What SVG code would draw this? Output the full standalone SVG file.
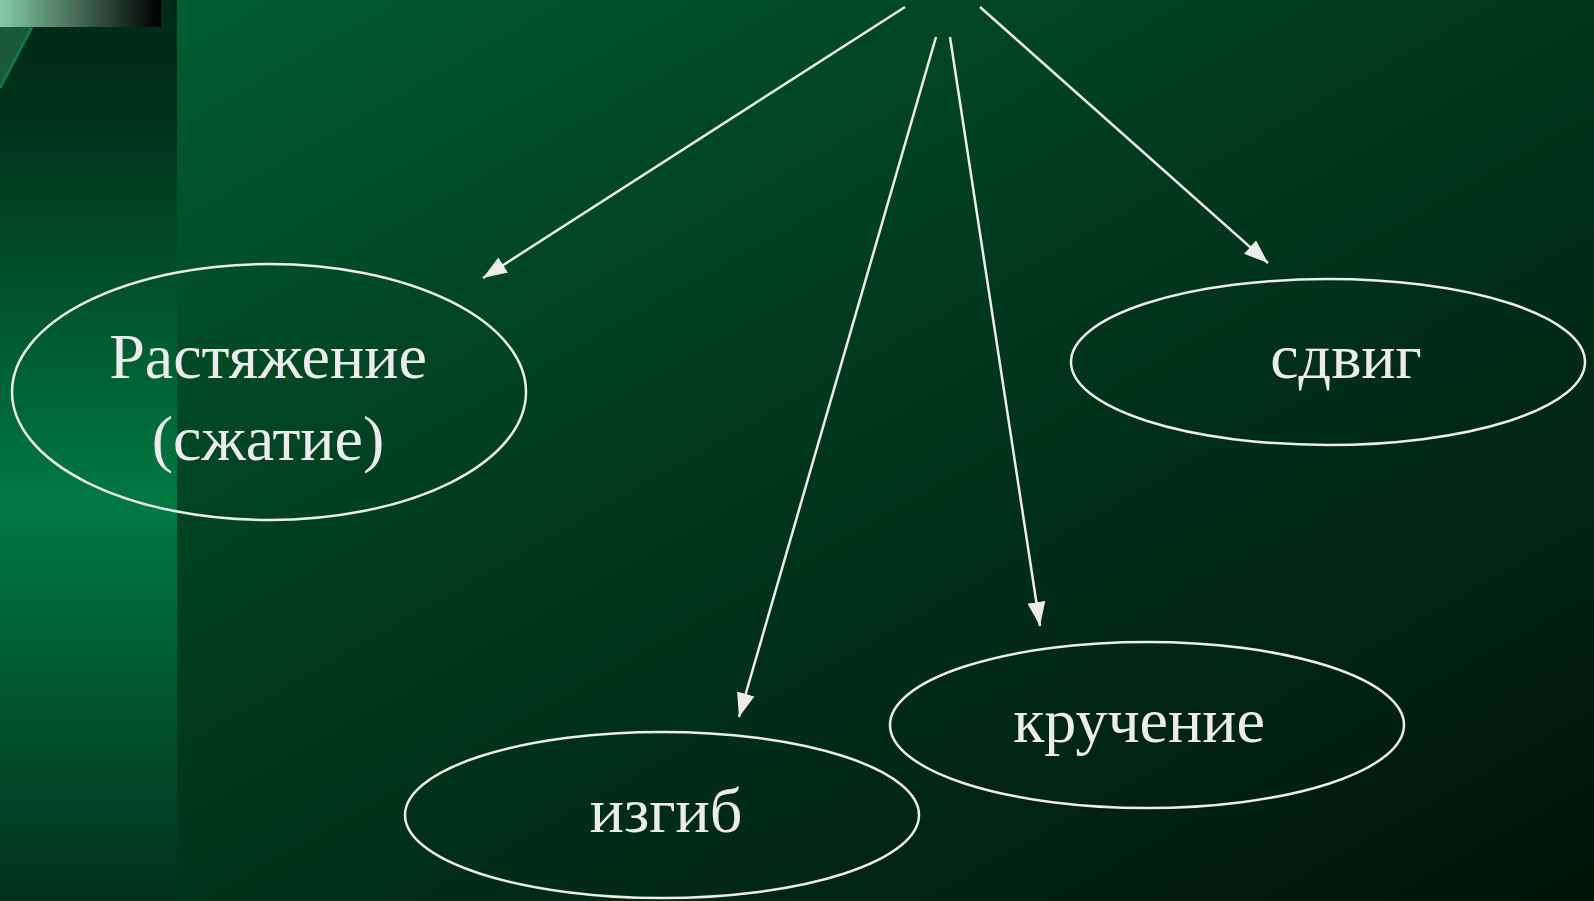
<svg xmlns="http://www.w3.org/2000/svg" width="1594" height="901" viewBox="0 0 1594 901">
<defs>
<linearGradient id="main" x1="0" y1="0" x2="1" y2="1" gradientUnits="objectBoundingBox">
<stop offset="0" stop-color="#006232"/>
<stop offset="0.45" stop-color="#003a1e"/>
<stop offset="1" stop-color="#00140a"/>
</linearGradient>
<linearGradient id="strip" x1="0" y1="0" x2="0" y2="1">
<stop offset="0" stop-color="#002a18"/>
<stop offset="0.12" stop-color="#00301a"/>
<stop offset="0.56" stop-color="#007a40"/>
<stop offset="1" stop-color="#00301c"/>
</linearGradient>
<linearGradient id="bar" x1="0" y1="0" x2="1" y2="0">
<stop offset="0" stop-color="#84cca4"/>
<stop offset="1" stop-color="#000000"/>
</linearGradient>
<marker id="ah" markerUnits="userSpaceOnUse" markerWidth="26" markerHeight="18" refX="24" refY="9" orient="auto">
<path d="M0,0 L24,9 L0,18 Z" fill="#ececec"/>
</marker>
<style>
.node ellipse{fill:none;stroke:#ececec;stroke-width:2.5}
.node text{font-family:"Liberation Serif","Times New Roman",serif;font-size:64px;fill:#ececec;text-anchor:middle}
#connectors line{stroke:#ececec;stroke-width:2.5;marker-end:url(#ah)}
</style>
</defs>
<rect x="0" y="0" width="1594" height="901" fill="url(#main)"/>
<rect x="0" y="0" width="177" height="901" fill="url(#strip)"/>
<rect x="0" y="0" width="161" height="27" fill="url(#bar)"/>
<polygon points="0,27 32,27 0,87" fill="#1a5a38"/>
<line x1="32" y1="27" x2="0" y2="88" stroke="#0a7a44" stroke-width="3"/>
<g id="connectors">
<line x1="905" y1="7" x2="483" y2="278"/>
<line x1="936" y1="37" x2="739" y2="717"/>
<line x1="950" y1="37" x2="1040" y2="626"/>
<line x1="980" y1="7" x2="1268" y2="263"/>
</g>
<g id="node-rastyazhenie" class="node">
<ellipse cx="269" cy="392" rx="257" ry="128"/>
<text x="268" y="378">Растяжение</text>
<text x="268" y="460">(сжатие)</text>
</g>
<g id="node-sdvig" class="node">
<ellipse cx="1328" cy="362" rx="257" ry="83"/>
<text x="1346" y="378">сдвиг</text>
</g>
<g id="node-kruchenie" class="node">
<ellipse cx="1147" cy="725" rx="257" ry="83"/>
<text x="1139" y="742">кручение</text>
</g>
<g id="node-izgib" class="node">
<ellipse cx="662" cy="815" rx="257" ry="83"/>
<text x="666" y="832">изгиб</text>
</g>
</svg>
